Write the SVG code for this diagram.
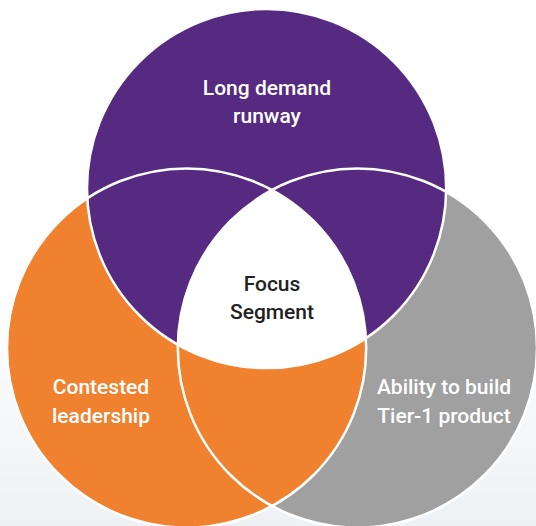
<svg xmlns="http://www.w3.org/2000/svg" width="536" height="526" viewBox="0 0 536 526">
  <defs>
    <style>
      .lbl { font-family: Roboto, "Liberation Sans", sans-serif; font-size: 21px; font-weight: 500; text-anchor: middle; }
      .light { fill: #ffffff; }
      .dark { fill: #222222; }
      .edge { fill: none; stroke: #ffffff; stroke-width: 2.5; }
    </style>
    <linearGradient id="bg" x1="0" y1="0" x2="0" y2="1">
      <stop offset="0" stop-color="#ffffff"/>
      <stop offset="0.55" stop-color="#ffffff"/>
      <stop offset="1" stop-color="#eef1f4"/>
    </linearGradient>
    <clipPath id="clipOrange"><circle cx="186.6" cy="348" r="179.6"/></clipPath>
    <clipPath id="clipGray"><circle cx="357.4" cy="348" r="179.6"/></clipPath>
  </defs>

  <rect x="0" y="0" width="536" height="526" fill="url(#bg)"/>

  <g id="node-ability">
    <circle cx="357.4" cy="348" r="179.6" fill="#a0a0a0"/>
  </g>
  <g id="node-contested">
    <circle cx="186.6" cy="348" r="179.6" fill="#f0812e"/>
  </g>
  <g id="node-demand">
    <circle cx="266.6" cy="188.5" r="179.6" fill="#562a80"/>
  </g>
  <g id="node-focus">
    <g clip-path="url(#clipGray)">
      <circle cx="266.6" cy="188.5" r="179.6" fill="#ffffff" clip-path="url(#clipOrange)"/>
    </g>
  </g>

  <g id="connectors">
    <circle class="edge" cx="357.4" cy="348" r="179.6"/>
    <circle class="edge" cx="186.6" cy="348" r="179.6"/>
    <circle class="edge" cx="266.6" cy="188.5" r="179.6"/>
  </g>

  <g id="labels">
    <text class="lbl light" x="267" y="95">Long demand</text>
    <text class="lbl light" x="267" y="123">runway</text>
    <text class="lbl dark" x="272" y="291">Focus</text>
    <text class="lbl dark" x="272" y="319">Segment</text>
    <text class="lbl light" x="101" y="394">Contested</text>
    <text class="lbl light" x="444" y="394">Ability to build</text>
    <text class="lbl light" x="101" y="423">leadership</text>
    <text class="lbl light" x="444" y="423">Tier-1 product</text>
  </g>
</svg>
